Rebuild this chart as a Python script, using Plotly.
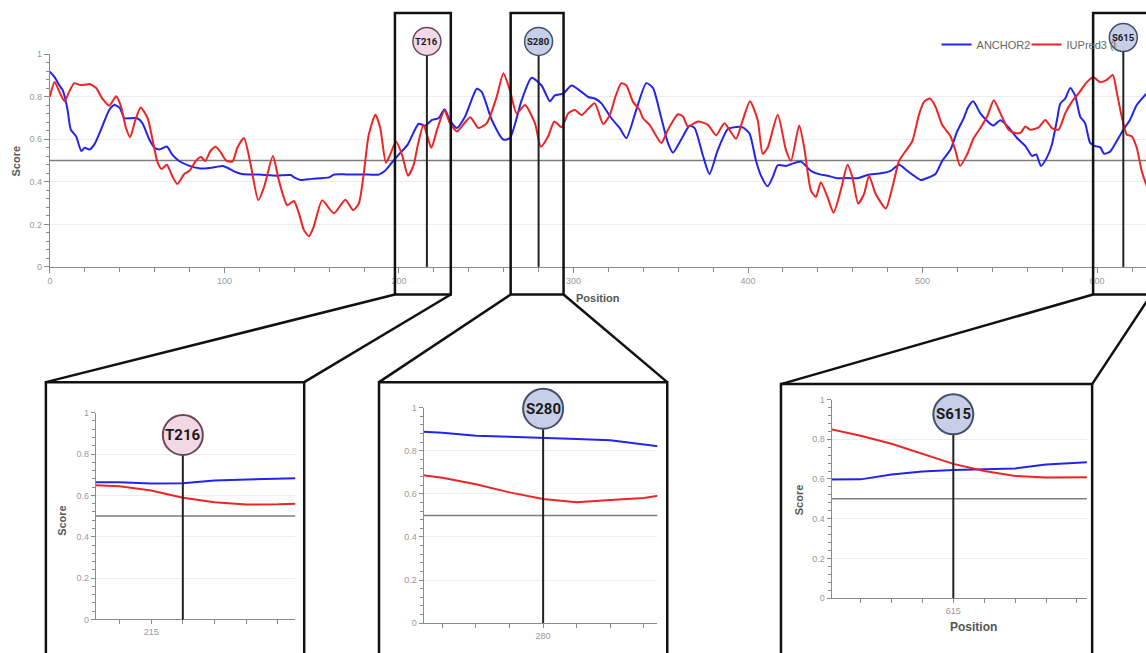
import plotly.graph_objects as go

W, H = 1146, 653

# ---------------- main chart data ----------------
anchor2_pos = [0, 2.7, 5.5, 7.4, 10, 12, 15, 18, 20, 22.7, 25.5, 30, 34, 37, 40, 42.7, 45.5, 50, 53, 57,
               60, 62.7, 67, 70, 74, 80, 85.5, 90, 95, 99, 102, 105.5, 110, 120, 130, 138, 140, 143.6, 150, 160,
               162.7, 170, 180, 188.4, 192, 196, 200, 205, 211.3, 215, 218.9, 222.7, 226.1, 229.3, 233.2, 237.9,
               244.6, 247.4, 253.2, 259.8, 263.6, 270.3, 276, 281.7, 286.5, 289.3, 294.1, 298.9, 304.6, 308.4,
               312.2, 316, 321.7, 326.5, 330.3, 336, 341.7, 345.5, 350.3, 354.1, 357, 361.7, 366.5, 369.4, 374.1,
               377.9, 382.7, 388.4, 392.2, 397, 400.8, 404.6, 407.4, 411.2, 414.1, 417, 421.7, 424.6, 430.3, 436,
               441.7, 445.5, 451.2, 457, 462.7, 468.4, 476, 481.7, 486.5, 491.2, 495, 498.9, 503.6, 507.4, 511.2,
               516, 519.8, 523.6, 526, 529, 533.1, 537, 540.4, 544.6, 549.3, 554.1, 558.9, 562.7, 565.1, 567.8,
               571.2, 574.1, 577, 578.9, 581.7, 584.6, 587.4, 590.3, 593.1, 596, 598.9, 601.7, 604, 607.4, 611.2,
               615, 618.8, 622.7, 627.4, 630]
anchor2 = [0.918, 0.892, 0.853, 0.83, 0.745, 0.645, 0.614, 0.545, 0.56, 0.552, 0.576, 0.66, 0.738, 0.761, 0.748,
           0.699, 0.699, 0.699, 0.676, 0.599, 0.56, 0.552, 0.566, 0.529, 0.498, 0.475, 0.464, 0.464, 0.47, 0.475,
           0.465, 0.449, 0.437, 0.434, 0.429, 0.432, 0.421, 0.409, 0.414, 0.421, 0.434, 0.435, 0.435, 0.434, 0.452,
           0.491, 0.529, 0.575, 0.673, 0.664, 0.691, 0.699, 0.741, 0.688, 0.653, 0.707, 0.838, 0.823, 0.691, 0.599,
           0.606, 0.784, 0.889, 0.853, 0.779, 0.807, 0.815, 0.853, 0.823, 0.799, 0.792, 0.769, 0.699, 0.653, 0.606,
           0.74, 0.864, 0.842, 0.70, 0.583, 0.537, 0.599, 0.664, 0.653, 0.525, 0.437, 0.55, 0.648, 0.657, 0.656,
           0.628, 0.498, 0.429, 0.379, 0.421, 0.478, 0.475, 0.483, 0.495, 0.452, 0.434, 0.429, 0.417, 0.418, 0.417,
           0.432, 0.44, 0.452, 0.48, 0.452, 0.429, 0.409, 0.421, 0.437, 0.498, 0.552, 0.637, 0.70, 0.75, 0.779,
           0.722, 0.687, 0.665, 0.69, 0.656, 0.606, 0.568, 0.522, 0.529, 0.475, 0.514, 0.576, 0.691, 0.768, 0.792,
           0.841, 0.806, 0.707, 0.676, 0.583, 0.568, 0.563, 0.532, 0.542, 0.591, 0.645, 0.691, 0.761, 0.807, 0.83]

iupred_pos = [0, 2.7, 5.5, 8.4, 11, 14, 17, 20, 22.7, 26.5, 30, 34, 38, 40.8, 43.6, 46, 49, 52, 56, 59, 61.7,
              64, 67, 70, 73, 77, 80, 83.6, 86.5, 89, 92, 95, 98, 101, 104.6, 107.4, 111.2, 115, 119.4, 122.7,
              127.8, 131.2, 136, 139.8, 142.7, 145.5, 148.4, 151.2, 156, 162.7, 169.3, 173.7, 177, 179.8, 182.7,
              186.5, 189.3, 192.5, 195, 198.3, 201.7, 205.2, 208.4, 211, 214.1, 218.5, 222, 226.1, 229, 233.2,
              240.8, 245.5, 250.3, 256, 259.8, 263.6, 267.4, 272.2, 277.9, 281.3, 285.5, 289, 293.2, 297, 300.8,
              304.6, 308, 312.2, 317, 320.8, 324, 327.4, 330.3, 334.1, 337.9, 339.8, 343.6, 350.3, 354.1, 359.8,
              362.7, 365.5, 371.2, 377, 381.7, 386.5, 393.1, 397, 401.1, 405.5, 408.4, 411.2, 417, 421.7, 424.6,
              429.3, 432.2, 436, 438.9, 441.7, 445.5, 449, 453.1, 457, 459.8, 463.1, 466.5, 469.3, 473.1, 478.9,
              482.7, 486.5, 490.3, 494.1, 497.9, 500.8, 504.2, 507.4, 511.2, 516, 518.9, 521.5, 525.5, 529.3,
              533.1, 537, 540.8, 544.6, 549.3, 553.1, 556, 558.9, 561.7, 566.5, 570.3, 574.1, 577.9, 581.7, 585.5,
              589.3, 594.1, 597.9, 601.7, 605.5, 609, 611.2, 614.1, 617, 619.8, 622.7, 625.5, 628, 630]
iupred = [0.80, 0.869, 0.823, 0.779, 0.823, 0.864, 0.856, 0.856, 0.86, 0.841, 0.792, 0.758, 0.802, 0.753, 0.653,
          0.61, 0.691, 0.75, 0.699, 0.591, 0.491, 0.46, 0.48, 0.429, 0.39, 0.437, 0.452, 0.498, 0.517, 0.498, 0.545,
          0.565, 0.537, 0.50, 0.495, 0.56, 0.606, 0.483, 0.313, 0.375, 0.522, 0.406, 0.29, 0.31, 0.252, 0.174,
          0.144, 0.19, 0.313, 0.252, 0.316, 0.267, 0.298, 0.437, 0.622, 0.715, 0.653, 0.49, 0.529, 0.59, 0.529,
          0.429, 0.48, 0.58, 0.668, 0.56, 0.65, 0.735, 0.68, 0.637, 0.704, 0.653, 0.676, 0.80, 0.91, 0.83, 0.722,
          0.761, 0.676, 0.565, 0.614, 0.684, 0.657, 0.722, 0.738, 0.714, 0.74, 0.769, 0.672, 0.715, 0.80, 0.864,
          0.853, 0.776, 0.738, 0.699, 0.668, 0.583, 0.645, 0.718, 0.707, 0.66, 0.684, 0.668, 0.619, 0.676, 0.603,
          0.691, 0.779, 0.691, 0.532, 0.56, 0.715, 0.55, 0.498, 0.665, 0.56, 0.36, 0.329, 0.398, 0.329, 0.255,
          0.36, 0.48, 0.421, 0.298, 0.344, 0.429, 0.344, 0.275, 0.375, 0.498, 0.545, 0.591, 0.715, 0.776, 0.792,
          0.753, 0.668, 0.614, 0.545, 0.475, 0.529, 0.606, 0.653, 0.707, 0.784, 0.722, 0.645, 0.63, 0.63, 0.66,
          0.645, 0.656, 0.691, 0.653, 0.645, 0.722, 0.776, 0.815, 0.869, 0.892, 0.869, 0.88, 0.903, 0.823, 0.707,
          0.622, 0.614, 0.56, 0.452, 0.39, 0.35]

x_tick_step = 100
threshold = 0.5

# ---------------- sites & insets ----------------
sites = ["T216", "S280", "S615"]
site_pos = [216, 280, 615]
site_fill = ["#f2d8e5", "#c7cfe8", "#c7cfe8"]
site_edge = ["#6a4657", "#454f6b", "#454f6b"]

inset_pos = [list(range(213, 221)), list(range(276, 285)), list(range(611, 621))]
inset_anchor2 = [
    [0.663, 0.663, 0.657, 0.659, 0.672, 0.676, 0.682, 0.685],
    [0.892, 0.884, 0.870, 0.866, 0.861, 0.855, 0.849, 0.828, 0.81],
    [0.597, 0.598, 0.623, 0.638, 0.645, 0.650, 0.653, 0.673, 0.684, 0.690],
]
inset_iupred = [
    [0.650, 0.644, 0.624, 0.589, 0.567, 0.556, 0.557, 0.562],
    [0.695, 0.675, 0.645, 0.607, 0.576, 0.561, 0.572, 0.581, 0.605],
    [0.852, 0.818, 0.777, 0.726, 0.676, 0.640, 0.615, 0.607, 0.607, 0.610],
]
inset_range = [[213.25, 219.55], [276.44, 283.4], [611.06, 619.32]]
inset_label_tick = [215, 280, 615]
zoom_windows = [[197.7, 229.7], [264, 294.3], [597.7, 631]]

# ---------------- layout geometry (pixels) ----------------
main_xrange = [0, 628]
main_xdom = [47 / W, 1.0]
main_ydom = [(H - 266) / H, (H - 50) / H]
inset_xdom = [[93 / W, 293 / W], [421.7 / W, 656 / W], [830.7 / W, 1086.7 / W]]
inset_ydom = [[(H - 624) / H, (H - 414) / H], [(H - 627.7) / H, (H - 409) / H], [(H - 602.3) / H, (H - 400.7) / H]]
frames = [[43, 302, 383], [377, 666, 383], [780, 1092, 385]]
main_circle_y = [37, 37, 33]
inset_circle_y = [436.7, 410, 415.7]

BLUE = "#2323ee"
RED = "#ee2424"
FONT = "Liberation Sans, Arial, sans-serif"


def px(v):
    return v / W


def py(v):
    return (H - v) / H


def main_xpaper(pos):
    return main_xdom[0] + (pos - main_xrange[0]) / (main_xrange[1] - main_xrange[0]) * (main_xdom[1] - main_xdom[0])


fig = go.Figure()
fig.add_trace(go.Scatter(x=anchor2_pos, y=anchor2, mode="lines", name="ANCHOR2",
                         line=dict(color=BLUE, width=2, shape="spline", smoothing=0.6), xaxis="x", yaxis="y"))
fig.add_trace(go.Scatter(x=iupred_pos, y=iupred, mode="lines", name="IUPred3 (long)",
                         line=dict(color=RED, width=2, shape="spline", smoothing=0.6), xaxis="x", yaxis="y"))

for i in range(3):
    xa = "x%d" % (i + 2)
    ya = "y%d" % (i + 2)
    fig.add_trace(go.Scatter(x=inset_pos[i], y=inset_anchor2[i], mode="lines", showlegend=False,
                             line=dict(color=BLUE, width=2), xaxis=xa, yaxis=ya))
    fig.add_trace(go.Scatter(x=inset_pos[i], y=inset_iupred[i], mode="lines", showlegend=False,
                             line=dict(color=RED, width=2), xaxis=xa, yaxis=ya))

axis_common = dict(showline=True, linecolor="#8a8a8a", linewidth=1, ticks="outside", tickcolor="#8a8a8a",
                   zeroline=False, tickfont=dict(size=9, color="#9a9a9a", family=FONT))

layout = dict(
    width=W, height=H, margin=dict(l=0, r=0, t=0, b=0),
    paper_bgcolor="white", plot_bgcolor="rgba(0,0,0,0)",
    font=dict(family=FONT),
    showlegend=True,
    legend=dict(orientation="h", x=px(936), y=py(40), xanchor="left", yanchor="middle",
                font=dict(size=11, color="#666666", family=FONT), bgcolor="rgba(0,0,0,0)",
                itemwidth=30, entrywidth=45, entrywidthmode="pixels", tracegroupgap=0),
    xaxis=dict(domain=main_xdom, range=main_xrange, anchor="y", dtick=x_tick_step, ticklen=5, showgrid=False,
               minor=dict(dtick=20, ticks="outside", ticklen=4, tickcolor="#8a8a8a"), **axis_common),
    yaxis=dict(domain=main_ydom, range=[0, 1], anchor="x", dtick=0.2, ticklen=5, showgrid=True,
               gridcolor="#ececec", minor=dict(dtick=0.04, ticks="outside", ticklen=3, tickcolor="#8a8a8a"),
               **axis_common),
)
for i in range(3):
    lo, hi = inset_range[i]
    tv = [v for v in range(int(lo) + 1, int(hi) + 1)]
    tt = [str(v) if v == inset_label_tick[i] else "" for v in tv]
    layout["xaxis%d" % (i + 2)] = dict(domain=inset_xdom[i], range=inset_range[i], anchor="y%d" % (i + 2),
                                       tickvals=tv, ticktext=tt, ticklen=4, showgrid=False, **axis_common)
    layout["yaxis%d" % (i + 2)] = dict(domain=inset_ydom[i], range=[0, 1], anchor="x%d" % (i + 2), dtick=0.2,
                                       ticklen=4, showgrid=True, gridcolor="#ececec",
                                       minor=dict(dtick=0.04, ticks="outside", ticklen=3, tickcolor="#8a8a8a"),
                                       **axis_common)
fig.update_layout(**layout)

shapes = []
annotations = []

# threshold lines
shapes.append(dict(type="line", xref="x domain", yref="y", x0=0, x1=1, y0=threshold, y1=threshold,
                   line=dict(color="#7d7d7d", width=1.5), layer="below"))
for i in range(3):
    shapes.append(dict(type="line", xref="x%d domain" % (i + 2), yref="y%d" % (i + 2), x0=0, x1=1,
                       y0=threshold, y1=threshold, line=dict(color="#7d7d7d", width=1.5), layer="below"))

# inset frames
for (l, r, t) in frames:
    shapes.append(dict(type="rect", xref="paper", yref="paper", x0=px(l), x1=px(r), y0=-0.05, y1=py(t),
                       line=dict(color="#111111", width=2.5), fillcolor="rgba(0,0,0,0)"))

# zoom windows on the main chart and connectors
box_top, box_bot = 8, 294
for i, (a, b) in enumerate(zoom_windows):
    shapes.append(dict(type="rect", xref="x", yref="paper", x0=a, x1=b, y0=py(box_bot), y1=py(box_top),
                       line=dict(color="#111111", width=2.5), fillcolor="rgba(0,0,0,0)"))
    l, r, t = frames[i]
    shapes.append(dict(type="line", xref="paper", yref="paper", x0=main_xpaper(a), y0=py(box_bot),
                       x1=px(l), y1=py(t), line=dict(color="#111111", width=2.5)))
    shapes.append(dict(type="line", xref="paper", yref="paper", x0=main_xpaper(b), y0=py(box_bot),
                       x1=px(r), y1=py(t), line=dict(color="#111111", width=2.5)))

# site markers (main)
r_main = 14
for i, s in enumerate(site_pos):
    cy = main_circle_y[i]
    shapes.append(dict(type="line", xref="x", yref="paper", x0=s, x1=s, y0=main_ydom[0], y1=py(cy + r_main),
                       line=dict(color="#222222", width=2)))
    shapes.append(dict(type="circle", xref="x", yref="paper", xsizemode="pixel", ysizemode="pixel",
                       xanchor=s, yanchor=py(cy), x0=-r_main, x1=r_main, y0=-r_main, y1=r_main,
                       fillcolor=site_fill[i], line=dict(color=site_edge[i], width=1.5)))
    annotations.append(dict(xref="x", yref="paper", x=s, y=py(cy), xanchor="center", yanchor="middle",
                            text="<b>%s</b>" % sites[i], showarrow=False,
                            font=dict(size=9.5, color="#1a1a1a", family="Roboto, Arial, sans-serif")))

# site markers (insets)
r_in = 20
for i, s in enumerate(site_pos):
    xa = "x%d" % (i + 2)
    cy = inset_circle_y[i]
    shapes.append(dict(type="line", xref=xa, yref="paper", x0=s, x1=s, y0=inset_ydom[i][0], y1=py(cy + r_in),
                       line=dict(color="#222222", width=2)))
    shapes.append(dict(type="circle", xref=xa, yref="paper", xsizemode="pixel", ysizemode="pixel",
                       xanchor=s, yanchor=py(cy), x0=-r_in, x1=r_in, y0=-r_in, y1=r_in,
                       fillcolor=site_fill[i], line=dict(color=site_edge[i], width=2)))
    annotations.append(dict(xref=xa, yref="paper", x=s, y=py(cy), xanchor="center", yanchor="middle",
                            text="<b>%s</b>" % sites[i], showarrow=False,
                            font=dict(size=15, color="#1a1a1a", family="Roboto, Arial, sans-serif")))

# axis titles
title_font = dict(size=11, color="#555555", family=FONT)


def title_ann(x, y, text, angle=0, font=title_font):
    return dict(xref="paper", yref="paper", x=px(x), y=py(y), xanchor="center", yanchor="middle",
                text="<b>%s</b>" % text, textangle=angle, showarrow=False, font=font)


annotations.append(title_ann(13, 158, "Score", -90))
annotations.append(title_ann(597, 298, "Position"))
annotations.append(title_ann(59, 523, "Score", -90))
annotations.append(title_ann(798, 502, "Score", -90))
annotations.append(title_ann(973, 632, "Position", 0, dict(size=12, color="#555555", family=FONT)))

fig.update_layout(shapes=shapes, annotations=annotations)
fig.write_html("out.html", config={"displayModeBar": False},
               post_script="document.body.style.margin='0';document.body.style.overflow='hidden';")
